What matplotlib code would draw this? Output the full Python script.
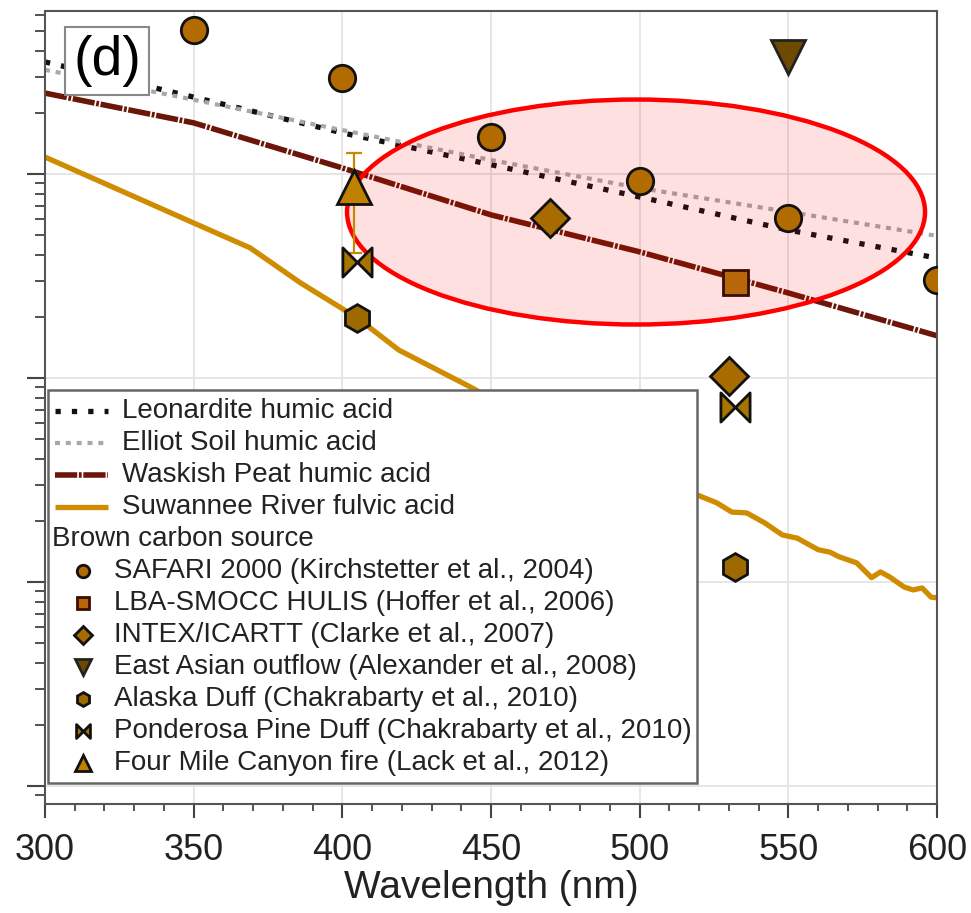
import matplotlib
matplotlib.use("Agg")
import matplotlib.pyplot as plt
from matplotlib.path import Path
from matplotlib.patches import Ellipse, Rectangle
from matplotlib.ticker import MultipleLocator, LogLocator, NullFormatter

plt.rcParams['font.family'] = ['Liberation Sans', 'DejaVu Sans']

# --- DATA (arbitrary log units) ---
wl_lines = [300, 350, 400, 450, 500, 550, 600]
leonardite = [0.354, 0.238, 0.159, 0.111, 0.0771, 0.0531, 0.0387]
elliot = [0.324, 0.231, 0.164, 0.117, 0.0853, 0.0652, 0.0497]
waskish = [0.249, 0.178, 0.107, 0.0630, 0.0415, 0.0261, 0.0161]

suwannee_wl = [300, 350, 369, 386, 405, 419, 443, 475, 500, 521, 526, 531, 536,
               542, 548, 553, 560, 564, 567, 573, 578, 581, 584, 589, 592, 595,
               598, 600]
suwannee = [0.121, 0.0575, 0.0434, 0.0292, 0.0197, 0.0137, 0.00904, 0.00497,
            0.00354, 0.00261, 0.00244, 0.00220, 0.00218, 0.00195, 0.00170,
            0.00164, 0.00144, 0.00140, 0.00133, 0.00124, 0.00105, 0.00112,
            0.00106, 0.000944, 0.000914, 0.000935, 0.000843, 0.000836]

safari_wl = [350, 400, 450, 500, 550, 600]
safari = [0.508, 0.296, 0.152, 0.0925, 0.0608, 0.0302]
hoffer_wl = [532]
hoffer = [0.0296]
clarke_wl = [470, 530]
clarke = [0.0608, 0.0102]
alexander_wl = [550]
alexander = [0.375]
alaska_wl = [405, 532]
alaska = [0.0197, 0.00119]
ponderosa_wl = [405, 532]
ponderosa = [0.0371, 0.00721]
fourmile_wl = [404]
fourmile = [0.0863]
fourmile_lo = [0.041]
fourmile_hi = [0.127]

# --- STYLES ---
bowtie = Path([(-1, 1), (0, 0), (1, 1), (1, -1), (0, 0), (-1, -1), (-1, 1)],
              [Path.MOVETO] + [Path.LINETO] * 5 + [Path.CLOSEPOLY])

line_styles = [
    ("Leonardite humic acid", wl_lines, leonardite,
     dict(color="#111111", lw=3.8, dashes=(1, 2.1), dash_capstyle="butt")),
    ("Elliot Soil humic acid", wl_lines, elliot,
     dict(color="#a8a8a8", lw=3.0, dashes=(1.2, 1.4), dash_capstyle="butt")),
    ("Waskish Peat humic acid", wl_lines, waskish,
     dict(color="#6b1608", lw=4.0, dashes=(4.0, 0.3, 0.5, 0.3), dash_capstyle="butt")),
    ("Suwannee River fulvic acid", suwannee_wl, suwannee,
     dict(color="#d08c00", lw=3.8, solid_capstyle="butt")),
]

point_styles = [
    ("SAFARI 2000 (Kirchstetter et al., 2004)", safari_wl, safari,
     dict(marker="o", ms=19, mfc="#b26b00", mec="#111111"), 9),
    ("LBA-SMOCC HULIS (Hoffer et al., 2006)", hoffer_wl, hoffer,
     dict(marker="s", ms=18, mfc="#b8660a", mec="#3b0d00"), 9),
    ("INTEX/ICARTT (Clarke et al., 2007)", clarke_wl, clarke,
     dict(marker="D", ms=19, mfc="#a86b00", mec="#111111"), 9.5),
    ("East Asian outflow (Alexander et al., 2008)", alexander_wl, alexander,
     dict(marker="v", ms=25, mfc="#6e4a00", mec="#222222"), 11),
    ("Alaska Duff (Chakrabarty et al., 2010)", alaska_wl, alaska,
     dict(marker="h", ms=20, mfc="#9c6a00", mec="#111111"), 10),
    ("Ponderosa Pine Duff (Chakrabarty et al., 2010)", ponderosa_wl, ponderosa,
     dict(marker=bowtie, ms=21, mfc="#a87400", mec="#111111"), 10),
    ("Four Mile Canyon fire (Lack et al., 2012)", fourmile_wl, fourmile,
     dict(marker="^", ms=24, mfc="#c08000", mec="#111111"), 11),
]

# axes box in pixels of the 971x913 figure
AX_L, AX_T, AX_R, AX_B = 45, 11, 937, 804
AX_W, AX_H = AX_R - AX_L, AX_B - AX_T


def ax_xy(px, py):
    return (px - AX_L) / AX_W, (AX_B - py) / AX_H


fig = plt.figure(figsize=(9.71, 9.13), dpi=100)
ax = fig.add_axes([AX_L / 971, 1 - AX_B / 913, AX_W / 971, AX_H / 913])

for label, x, y, st in line_styles:
    ax.plot(x, y, zorder=2, **st)

ax.errorbar(fourmile_wl, fourmile,
            yerr=[[f - lo for f, lo in zip(fourmile, fourmile_lo)],
                  [hi - f for f, hi in zip(fourmile, fourmile_hi)]],
            fmt="none", ecolor="#c8860a", elinewidth=1.6, capsize=5.5,
            capthick=1.6, zorder=4)

for label, x, y, st, _ in point_styles:
    ax.plot(x, y, ls="none", mew=2, zorder=5, **st)

ax.set_yscale("log")
ax.set_xlim(300, 600)
ax.set_ylim(8.16e-5, 0.629)

ax.xaxis.set_major_locator(MultipleLocator(50))
ax.xaxis.set_minor_locator(MultipleLocator(10))
ax.yaxis.set_major_locator(LogLocator(base=10, numticks=20))
ax.yaxis.set_minor_locator(LogLocator(base=10, subs=range(2, 10), numticks=20))
ax.yaxis.set_major_formatter(NullFormatter())
ax.yaxis.set_minor_formatter(NullFormatter())

ax.tick_params(axis="x", which="major", length=10, width=1.5, color="#444444",
               labelsize=26, pad=11, labelcolor="#222222")
ax.tick_params(axis="x", which="minor", length=5, width=1.3, color="#444444")
ax.tick_params(axis="y", which="major", length=13, width=1.5, color="#444444")
ax.tick_params(axis="y", which="minor", length=7, width=1.3, color="#444444")
for s in ax.spines.values():
    s.set_color("#555555")
    s.set_linewidth(1.5)

ax.grid(True, which="major", color="#e2e2e2", lw=1.2, zorder=0)
ax.set_axisbelow(True)
ax.set_xlabel("Wavelength (nm)", fontsize=28, labelpad=1, color="#222222")

# highlight ellipse
ax.add_patch(Ellipse((0.6626, 0.7465), 0.648, 0.2837, transform=ax.transAxes,
                     facecolor=(1, 0, 0, 0.12), edgecolor="#ff0000", lw=3.2,
                     zorder=3))

# panel label
ax.text(0.0695, 0.937, "(d)", transform=ax.transAxes, fontsize=40,
        ha="center", va="center", zorder=12,
        bbox=dict(boxstyle="square,pad=0.14", fc="white", ec="#888888", lw=1.5))

# --- hand-built legend ---
x0, y0 = ax_xy(48, 783)
x1, y1 = ax_xy(697, 390)
ax.add_patch(Rectangle((x0, y0), x1 - x0, y1 - y0, transform=ax.transAxes,
                       fc="white", ec="#666666", lw=1.8, zorder=10))

row = 0
for label, x, y, st in line_styles:
    py = 411 + 32 * row
    hx0, hy = ax_xy(55, py)
    hx1, _ = ax_xy(108, py)
    ax.plot([hx0, hx1], [hy, hy], transform=ax.transAxes, zorder=11,
            clip_on=False, **st)
    ax.text(ax_xy(122, py)[0], hy, label, transform=ax.transAxes, fontsize=20,
            va="center", ha="left", color="#222222", zorder=11)
    row += 1

py = 411 + 32 * row
ax.text(ax_xy(52, py)[0], ax_xy(52, py)[1], "Brown carbon source",
        transform=ax.transAxes, fontsize=20, va="center", ha="left",
        color="#222222", zorder=11)
row += 1

for label, x, y, st, leg_ms in point_styles:
    py = 411 + 32 * row
    mx, my = ax_xy(83, py)
    st_leg = dict(st)
    st_leg["ms"] = leg_ms
    ax.plot([mx], [my], transform=ax.transAxes, ls="none", mew=2, zorder=11,
            clip_on=False, **st_leg)
    ax.text(ax_xy(114, py)[0], my, label, transform=ax.transAxes, fontsize=20,
            va="center", ha="left", color="#222222", zorder=11)
    row += 1

fig.savefig("out.png", dpi=100)
